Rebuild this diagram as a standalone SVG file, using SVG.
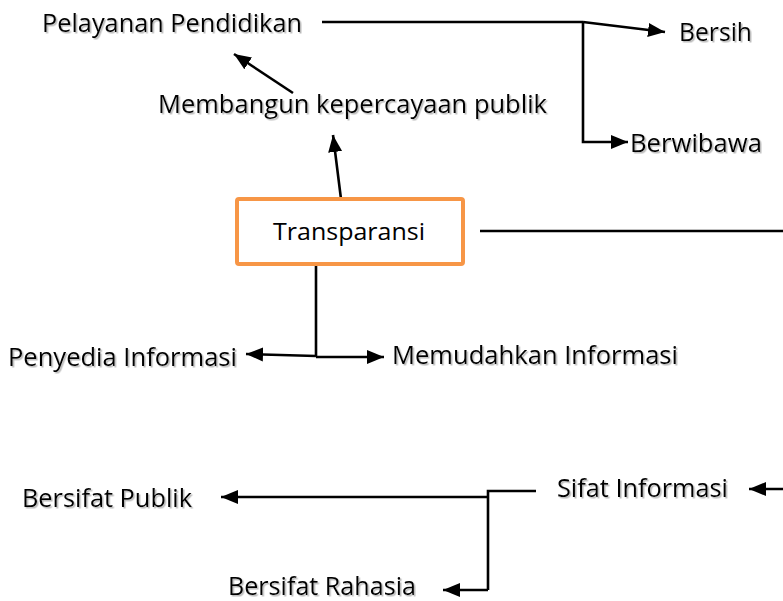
<svg xmlns="http://www.w3.org/2000/svg" width="783" height="601" viewBox="0 0 783 601">
  <style>
    .lbl { font-family: "Open Sans", "Noto Sans", "Liberation Sans", sans-serif; font-size: 26px; fill: #000; filter: url(#shadow); }
    .lbl.small { font-size: 25px; }
    .box { font-family: "Open Sans", "Noto Sans", "Liberation Sans", sans-serif; font-size: 23px; fill: #000; }
    .ln { fill: none; stroke: #000; stroke-width: 2.6; }
    .arr { marker-end: url(#head); }
  </style>
  <defs>
    <filter id="shadow" x="-5%" y="-20%" width="110%" height="150%">
      <feDropShadow dx="1.5" dy="1.5" stdDeviation="0.7" flood-color="#7f7f7f" flood-opacity="0.55"/>
    </filter>
    <marker id="head" markerUnits="userSpaceOnUse" markerWidth="18" markerHeight="16" refX="17" refY="8" orient="auto">
      <path d="M0,1 L17,8 L0,15 Z" fill="#000"/>
    </marker>
  </defs>

  <!-- connectors -->
  <g id="connectors">
    <path class="ln" d="M322,22 H583"/>
    <path class="ln arr" d="M583,22 L665,32"/>
    <path class="ln arr" d="M583,22 V142 H628"/>
    <path class="ln arr" d="M293,93 L234,54"/>
    <path class="ln arr" d="M341,199 L333,135"/>
    <path class="ln" d="M480,231 H783"/>
    <path class="ln" d="M316,264 V356"/>
    <path class="ln arr" d="M316,356 L246,354"/>
    <path class="ln arr" d="M316,357 H384"/>
    <path class="ln arr" d="M783,489 H749"/>
    <path class="ln" d="M536,491 H488 V590"/>
    <path class="ln arr" d="M488,497 H221"/>
    <path class="ln arr" d="M488,590 H443"/>
  </g>

  <g id="pelayanan"><text class="lbl" x="42" y="32" textLength="260" lengthAdjust="spacingAndGlyphs">Pelayanan Pendidikan</text></g>
  <g id="bersih"><text class="lbl" x="679" y="41" textLength="73" lengthAdjust="spacingAndGlyphs">Bersih</text></g>
  <g id="membangun"><text class="lbl" x="158" y="113" textLength="389" lengthAdjust="spacingAndGlyphs">Membangun kepercayaan publik</text></g>
  <g id="berwibawa"><text class="lbl" x="630" y="152" textLength="132" lengthAdjust="spacingAndGlyphs">Berwibawa</text></g>

  <g id="transparansi">
    <rect x="237" y="199" width="226" height="65" rx="2" fill="#fff" stroke="#F79646" stroke-width="4"/>
    <text class="box" x="273" y="240" textLength="152" lengthAdjust="spacingAndGlyphs">Transparansi</text>
  </g>

  <g id="penyedia"><text class="lbl" x="8" y="366" textLength="229" lengthAdjust="spacingAndGlyphs">Penyedia Informasi</text></g>
  <g id="memudahkan"><text class="lbl" x="392" y="364" textLength="286" lengthAdjust="spacingAndGlyphs">Memudahkan Informasi</text></g>
  <g id="sifat"><text class="lbl" x="557" y="497" textLength="171" lengthAdjust="spacingAndGlyphs">Sifat Informasi</text></g>
  <g id="publik"><text class="lbl" x="22" y="507" textLength="170" lengthAdjust="spacingAndGlyphs">Bersifat Publik</text></g>
  <g id="rahasia"><text class="lbl small" x="228" y="595" textLength="188" lengthAdjust="spacingAndGlyphs">Bersifat Rahasia</text></g>
</svg>
